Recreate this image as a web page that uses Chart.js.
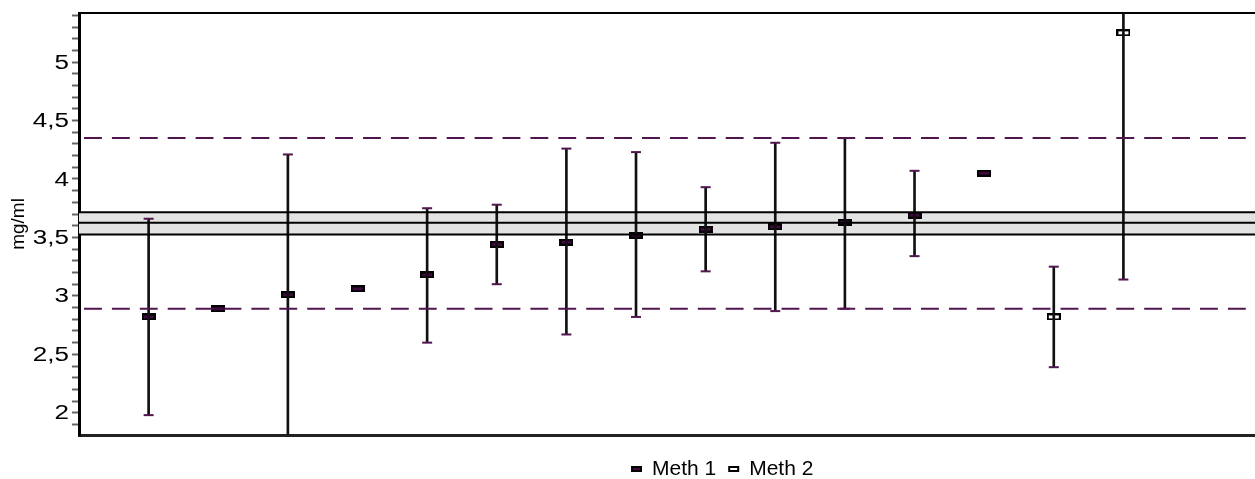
<!DOCTYPE html>
<html>
<head>
<meta charset="utf-8">
<script src="https://cdn.jsdelivr.net/npm/chart.js@4.4.1/dist/chart.umd.min.js"></script>
<style>
  html, body { margin: 0; padding: 0; background: #fff; overflow: hidden; }
  canvas { display: block; }
</style>
</head>
<body>
<canvas id="chart" width="1255" height="479"></canvas>
<script>
// Laboratory positions along the x axis (no tick labels are shown)
const labs = [1, 2, 3, 4, 5, 6, 7, 8, 9, 10, 11, 12, 13, 14, 15];
// Method used by each laboratory
const methods = ['Meth 1', 'Meth 1', 'Meth 1', 'Meth 1', 'Meth 1', 'Meth 1', 'Meth 1',
                 'Meth 1', 'Meth 1', 'Meth 1', 'Meth 1', 'Meth 1', 'Meth 1', 'Meth 2', 'Meth 2'];
// Reported mean per laboratory (mg/ml)
const means = [2.82, 2.89, 3.01, 3.06, 3.18, 3.44, 3.46, 3.52, 3.57, 3.59, 3.63, 3.69, 4.05, 2.82, 5.25];
// Uncertainty interval per laboratory (null = no interval reported)
const lowerBounds = [1.98, null, 1.80, null, 2.60, 3.10, 2.67, 2.82, 3.21, 2.87, 2.89, 3.34, null, 2.39, 3.14];
const upperBounds = [3.66, null, 4.21, null, 3.75, 3.78, 4.26, 4.23, 3.93, 4.31, 4.35, 4.07, null, 3.25, 7.36];
// Assigned value with its uncertainty band, and the acceptance limits
const assignedValue = 3.625;
const assignedBand = [3.525, 3.715];
const acceptanceLimits = [2.89, 4.35];
// Axis extents
const yRange = [1.81, 5.42];
const xRange = [0, 16.89];
const legendLabels = ['Meth 1', 'Meth 2'];

const FONT = "'Liberation Sans', Arial, Helvetica, sans-serif";
const PURPLE = '#52164f';
const METH1_FILL = '#3f0a3d';

Chart.defaults.font.family = FONT;
Chart.defaults.color = '#000';

function markerCanvas(fill, w, h) {
  const c = document.createElement('canvas');
  c.width = w; c.height = h;
  const g = c.getContext('2d');
  g.fillStyle = '#000';
  g.fillRect(0, 0, w, h);
  g.fillStyle = fill;
  g.fillRect(2, 2, w - 4, h - 4);
  return c;
}
const meth1Marker = markerCanvas(METH1_FILL, 14, 7);
const meth2Marker = markerCanvas('#ffffff', 14, 7);

function horizontal(v) {
  return [{ x: xRange[0], y: v }, { x: xRange[1], y: v }];
}

const meth1Points = labs.map((x, i) => ({ x, y: means[i], m: methods[i] })).filter(d => d.m === 'Meth 1');
const meth2Points = labs.map((x, i) => ({ x, y: means[i], m: methods[i] })).filter(d => d.m === 'Meth 2');
const intervals = labs.map((x, i) => ({ x, y: [lowerBounds[i], upperBounds[i]] })).filter(d => d.y[0] !== null);
const caps = [];
labs.forEach((x, i) => {
  if (lowerBounds[i] !== null) {
    caps.push({ x, y: lowerBounds[i] });
    caps.push({ x, y: upperBounds[i] });
  }
});

function tickText(v) {
  const half = v * 2;
  if (Math.abs(half - Math.round(half)) > 1e-6) return '';
  const r = Math.round(half) / 2;
  return (Number.isInteger(r) ? String(r) : r.toFixed(1)).replace('.', ',');
}

// Y tick labels, drawn slightly widened
const yLabelPlugin = {
  id: 'wideYLabels',
  afterDraw(chart) {
    const scale = chart.scales.y;
    const ctx = chart.ctx;
    const right = scale.right - 10;
    ctx.save();
    ctx.font = '20px ' + FONT;
    ctx.fillStyle = '#000';
    ctx.textAlign = 'right';
    ctx.textBaseline = 'middle';
    scale.ticks.forEach((t, i) => {
      if (!t.label) return;
      const y = scale.getPixelForTick(i);
      ctx.save();
      ctx.translate(right, y + 1);
      ctx.scale(1.3, 1);
      ctx.fillText(t.label, 0, 0);
      ctx.restore();
    });
    ctx.restore();
  }
};

// Legend drawn under the plot
const legendPlugin = {
  id: 'methodLegend',
  afterDraw(chart) {
    const ctx = chart.ctx;
    const centerX = 722;
    const y = 469;
    ctx.save();
    ctx.font = '21px ' + FONT;
    ctx.textBaseline = 'middle';
    const fills = [METH1_FILL, '#ffffff'];
    const mw = 11, mh = 6, gapA = 10, gapB = 12;
    let total = 0;
    legendLabels.forEach((t, i) => {
      total += mw + gapA + ctx.measureText(t).width + (i < legendLabels.length - 1 ? gapB : 0);
    });
    let x = Math.round(centerX - total / 2);
    legendLabels.forEach((t, i) => {
      ctx.fillStyle = '#000';
      ctx.fillRect(x, y - mh / 2, mw, mh);
      ctx.fillStyle = fills[i];
      ctx.fillRect(x + 2, y - mh / 2 + 2, mw - 4, mh - 4);
      x += mw + gapA;
      ctx.fillStyle = '#000';
      ctx.fillText(t, x, y);
      x += ctx.measureText(t).width + gapB;
    });
    ctx.restore();
  }
};

new Chart(document.getElementById('chart'), {
  type: 'scatter',
  data: {
    datasets: [
      { type: 'line', data: horizontal(assignedBand[1]), borderColor: '#000', borderWidth: 2,
        pointRadius: 0, fill: 1, backgroundColor: '#e3e3e3', order: 1 },
      { type: 'line', data: horizontal(assignedBand[0]), borderColor: '#000', borderWidth: 2,
        pointRadius: 0, fill: false, order: 1 },
      { type: 'line', data: horizontal(assignedValue), borderColor: '#000', borderWidth: 2,
        pointRadius: 0, fill: false, order: 1 },
      { type: 'line', data: horizontal(acceptanceLimits[1]), borderColor: PURPLE, borderWidth: 2,
        borderDash: [17.9, 10], borderDashOffset: -5, pointRadius: 0, fill: false, order: 1 },
      { type: 'line', data: horizontal(acceptanceLimits[0]), borderColor: PURPLE, borderWidth: 2,
        borderDash: [17.9, 10], borderDashOffset: -5, pointRadius: 0, fill: false, order: 1 },
      { label: 'Meth 1', data: meth1Points, pointStyle: meth1Marker, pointRadius: 7, order: 5, clip: false },
      { label: 'Meth 2', data: meth2Points, pointStyle: meth2Marker, pointRadius: 7, order: 5, clip: false },
      { type: 'bar', data: intervals, barThickness: 2, backgroundColor: '#111', borderWidth: 0, order: 4 },
      { data: caps, pointStyle: 'line', pointRadius: 5, pointBorderWidth: 2,
        pointBorderColor: PURPLE, pointBackgroundColor: PURPLE, order: 3, clip: 0 }
    ]
  },
  options: {
    responsive: false,
    animation: false,
    events: [],
    layout: { autoPadding: false, padding: { top: 13, right: 0, bottom: 44, left: 0 } },
    plugins: {
      legend: { display: false },
      tooltip: { enabled: false },
      filler: { drawTime: 'beforeDatasetsDraw' }
    },
    scales: {
      x: {
        type: 'linear', position: 'bottom', min: xRange[0], max: xRange[1], offset: false,
        ticks: { display: false },
        grid: { display: false, drawTicks: false },
        border: { display: true, color: '#222', width: 3 }
      },
      xTop: {
        type: 'linear', position: 'top', min: xRange[0], max: xRange[1], offset: false,
        ticks: { display: false },
        grid: { display: false, drawTicks: false },
        border: { display: true, color: '#000', width: 2 }
      },
      y: {
        type: 'linear', min: yRange[0], max: yRange[1],
        afterFit(scale) { scale.width = 79; },
        ticks: {
          display: false, stepSize: 0.1, includeBounds: false, autoSkip: false, callback: tickText
        },
        grid: { drawOnChartArea: false, tickLength: 7, tickColor: '#666', tickWidth: 2 },
        border: { display: true, color: '#000', width: 3 },
        title: { display: true, text: 'mg/ml', font: { size: 19 }, color: '#000', padding: { top: 7, bottom: 0 } }
      }
    }
  },
  plugins: [yLabelPlugin, legendPlugin]
});
</script>
</body>
</html>
